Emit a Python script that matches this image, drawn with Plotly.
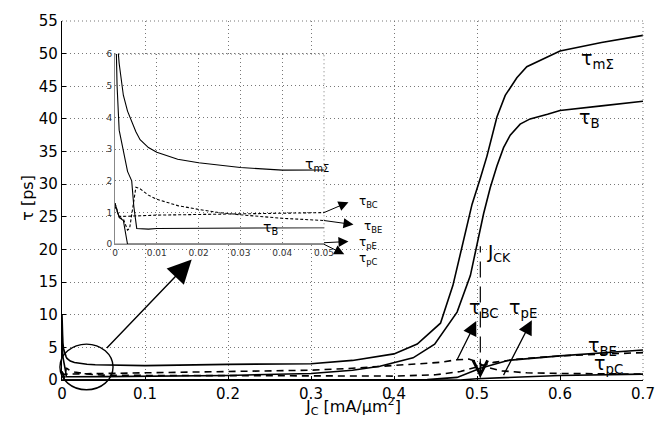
import plotly.graph_objects as go

# ---------------- data ----------------
x_mS = [0, 0.0005, 0.001, 0.002, 0.003, 0.004, 0.005, 0.006, 0.008, 0.01, 0.015, 0.02, 0.03, 0.04, 0.05,
        0.1, 0.2, 0.3, 0.35, 0.4, 0.428, 0.456, 0.471, 0.48, 0.494, 0.504, 0.512, 0.524, 0.534, 0.548, 0.56,
        0.6, 0.65, 0.7]
y_mS = [10, 6.5, 5.7, 4.7, 4.2, 3.85, 3.55, 3.3, 3.05, 2.9, 2.68, 2.57, 2.42, 2.34, 2.3,
        2.2, 2.4, 2.5, 3.0, 4.0, 5.5, 8.7, 14.5, 19.5, 26.9, 30.9, 34.3, 40.3, 43.6, 46.3, 48.0,
        50.4, 51.7, 52.8]

x_B = [0, 0.0005, 0.001, 0.002, 0.003, 0.0035, 0.004, 0.0045, 0.0052, 0.008, 0.01, 0.05, 0.1, 0.2, 0.3,
       0.35, 0.383, 0.423, 0.449, 0.476, 0.492, 0.508, 0.516, 0.524, 0.532, 0.54, 0.552, 0.564, 0.585,
       0.6, 0.65, 0.7]
y_B = [8, 5, 3.6, 2.9, 2.3, 2.15, 2.0, 1.2, 0.5, 0.48, 0.5, 0.52, 0.55, 0.7, 1.0,
       1.5, 2.1, 3.4, 5.5, 10.4, 16, 25.5, 29.5, 32.8, 35.6, 37.5, 39.2, 40.0, 40.7,
       41.3, 42.0, 42.7]

x_BC = [0, 0.001, 0.002, 0.005, 0.01, 0.02, 0.03, 0.04, 0.05, 0.1, 0.2, 0.3, 0.35, 0.4, 0.43, 0.455,
        0.476, 0.49, 0.5, 0.51, 0.53, 0.56, 0.6, 0.7]
y_BC = [1.2, 0.88, 0.88, 0.9, 0.92, 0.94, 0.96, 0.98, 1.0, 1.1, 1.25, 1.5, 1.8, 2.2, 2.4, 2.7,
        3.1, 3.2, 2.8, 2.0, 1.4, 1.1, 1.0, 0.9]

x_BE = [0, 0.001, 0.002, 0.0025, 0.003, 0.0035, 0.004, 0.0045, 0.005, 0.006, 0.008, 0.01, 0.015, 0.02,
        0.025, 0.03, 0.04, 0.05, 0.1, 0.2, 0.3, 0.4, 0.45, 0.48, 0.5, 0.52, 0.55, 0.6, 0.7]
y_BE = [1.3, 0.85, 0.8, 0.6, 0.45, 0.5, 0.9, 1.4, 1.8, 1.75, 1.55, 1.42, 1.22, 1.1,
        1.0, 0.93, 0.82, 0.75, 0.7, 0.65, 0.6, 0.6, 0.8, 1.3, 2.0, 2.7, 3.2, 3.7, 4.2]

x_pC = [0, 0.001, 0.002, 0.0025, 0.003, 0.44, 0.476, 0.504, 0.537, 0.6, 0.65, 0.7]
y_pC = [1.3, 0.85, 0.75, 0.3, 0, 0.05, 0.4, 1.8, 3.0, 3.7, 4.2, 4.6]

x_pE = [0, 0.48, 0.5, 0.55, 0.6, 0.7]
y_pE = [0, 0, 0.2, 0.5, 0.7, 0.9]

J_CK = 0.504

x_ticks = [0, 0.1, 0.2, 0.3, 0.4, 0.5, 0.6, 0.7]
x_ticklabels = ["0", "0.1", "0.2", "0.3", "0.4", "0.5", "0.6", "0.7"]
y_ticks = list(range(0, 56, 5))
inset_x_ticks = [0, 0.01, 0.02, 0.03, 0.04, 0.05]
inset_x_ticklabels = ["0", "0.01", "0.02", "0.03", "0.04", "0.05"]
inset_y_ticks = [0, 1, 2, 3, 4, 5, 6]

X_RANGE = [0, 0.7]
Y_RANGE = [0, 55]
IX_RANGE = [0, 0.05]
IY_RANGE = [0, 6]
IX_DOM = [0.0912, 0.451]
IY_DOM = [0.378, 0.908]

series = [
    (x_mS, y_mS, "solid"),
    (x_B, y_B, "solid"),
    (x_BC, y_BC, "dash"),
    (x_BE, y_BE, "dash"),
    (x_pC, y_pC, "solid"),
    (x_pE, y_pE, "solid"),
]

fig = go.Figure()
for xs, ys, d in series:
    fig.add_trace(go.Scatter(x=xs, y=ys, mode="lines", xaxis="x", yaxis="y",
                             line=dict(color="black", width=1.6,
                                       dash="7px,5px" if d == "dash" else "solid"),
                             hoverinfo="skip"))
for xs, ys, d in series:
    fig.add_trace(go.Scatter(x=xs, y=ys, mode="lines", xaxis="x2", yaxis="y2",
                             line=dict(color="black", width=1.1,
                                       dash="3px,2px" if d == "dash" else "solid"),
                             hoverinfo="skip"))

GRID = "#777"
GDASH = "1px,3px"
FONT = "DejaVu Sans"

fig.update_layout(
    width=667, height=424,
    margin=dict(l=62, r=24, t=12, b=44),
    paper_bgcolor="white", plot_bgcolor="white",
    showlegend=False,
    font=dict(family=FONT, color="black"),
    xaxis=dict(range=X_RANGE, tickvals=x_ticks, ticktext=x_ticklabels, showline=True,
               linecolor="black", linewidth=1.2, ticks="inside", ticklen=4, tickcolor="black",
               showgrid=True, gridcolor=GRID, griddash=GDASH, gridwidth=1, zeroline=False,
               tickfont=dict(size=15, family=FONT), domain=[0, 1]),
    yaxis=dict(range=Y_RANGE, tickvals=y_ticks, showline=True,
               linecolor="black", linewidth=1.2, ticks="inside", ticklen=4, tickcolor="black",
               showgrid=True, gridcolor=GRID, griddash=GDASH, gridwidth=1, zeroline=False,
               tickfont=dict(size=15, family=FONT), domain=[0, 1]),
    xaxis2=dict(range=IX_RANGE, tickvals=inset_x_ticks, ticktext=inset_x_ticklabels,
                domain=IX_DOM, anchor="y2", showline=True, linecolor="#888",
                linewidth=1, ticks="", showgrid=True, gridcolor=GRID, griddash=GDASH,
                zeroline=False, tickfont=dict(size=9, color="#333", family=FONT)),
    yaxis2=dict(range=IY_RANGE, tickvals=inset_y_ticks, domain=IY_DOM, anchor="x2",
                showline=True, linecolor="#888", linewidth=1, ticks="", showgrid=True,
                gridcolor=GRID, griddash=GDASH, zeroline=False,
                tickfont=dict(size=9, color="#333", family=FONT)),
)

# edge grid lines (top/right) for main and inset
shapes = [
    dict(type="line", xref="x domain", yref="y domain", x0=0, x1=1, y0=1, y1=1,
         line=dict(color=GRID, width=1, dash=GDASH)),
    dict(type="line", xref="x domain", yref="y domain", x0=1, x1=1, y0=0, y1=1,
         line=dict(color=GRID, width=1, dash=GDASH)),
    dict(type="line", xref="x2 domain", yref="y2 domain", x0=0, x1=1, y0=1, y1=1,
         line=dict(color=GRID, width=1, dash=GDASH)),
    dict(type="line", xref="x2 domain", yref="y2 domain", x0=1, x1=1, y0=0, y1=1,
         line=dict(color=GRID, width=1, dash=GDASH)),
]

def px_(x):
    return (x - X_RANGE[0]) / (X_RANGE[1] - X_RANGE[0])

def py_(y):
    return (y - Y_RANGE[0]) / (Y_RANGE[1] - Y_RANGE[0])

def ipx(x):
    return IX_DOM[0] + (x - IX_RANGE[0]) / (IX_RANGE[1] - IX_RANGE[0]) * (IX_DOM[1] - IX_DOM[0])

def ipy(y):
    return IY_DOM[0] + (y - IY_RANGE[0]) / (IY_RANGE[1] - IY_RANGE[0]) * (IY_DOM[1] - IY_DOM[0])

# zoom ellipse around the small-current region
cx, cy, rx, ry = 0.0295, 2.0, 0.032, 3.5
shapes.append(dict(type="circle", xref="paper", yref="paper",
                   x0=px_(cx - rx), x1=px_(cx + rx), y0=py_(cy - ry), y1=py_(cy + ry),
                   line=dict(color="black", width=1.4)))
# J_CK marker line
shapes.append(dict(type="line", xref="x", yref="y", x0=J_CK, x1=J_CK, y0=0.4, y1=20.5,
                   line=dict(color="black", width=1.2, dash="16px,9px")))
fig.update_layout(shapes=shapes)

ann = []

def label(text, x, y, size, xref="x", yref="y"):
    ann.append(dict(text=text, x=x, y=y, xref=xref, yref=yref, showarrow=False,
                    font=dict(size=size, family=FONT, color="black"),
                    xanchor="center", yanchor="middle"))

def arrow(x0, y0, x1, y1, size, width=1.3, head=2, xref="x", yref="y"):
    # arrow from (x0, y0) on a curve to head at (x1, y1)
    ann.append(dict(text="", x=x0, y=y0, ax=x1, ay=y1, xref=xref, yref=yref,
                    axref=xref, ayref=yref, showarrow=True, arrowside="start",
                    startarrowhead=head, startarrowsize=size, arrowwidth=width,
                    arrowcolor="black"))

# main labels
label("τ<sub>mΣ</sub>", 0.645, 49.1, 19)
label("τ<sub>B</sub>", 0.636, 40.1, 19)
label("J<sub>CK</sub>", 0.527, 19.4, 18)
label("τ<sub>BC</sub>", 0.508, 11.0, 19)
label("τ<sub>pE</sub>", 0.556, 11.0, 19)
label("τ<sub>BE</sub>", 0.651, 5.2, 19)
label("τ<sub>pC</sub>", 0.658, 2.4, 19)

arrow(0.476, 3.1, 0.5, 9.25, 2.2, 1.3)
arrow(0.532, 0.75, 0.567, 9.4, 2.2, 1.3)
arrow(0.054, 4.9, 0.158, 18.7, 3.4, 1.4)
# J_CK arrow head (open)
ann.append(dict(text="", x=J_CK, y=0.3, ax=J_CK, ay=3.5, xref="x", yref="y", axref="x",
                ayref="y", showarrow=True, arrowhead=5, arrowsize=2.6, arrowwidth=1.1,
                arrowcolor="black"))

# inset labels
label("τ<sub>mΣ</sub>", 0.0483, 2.49, 14, "x2", "y2")
label("τ<sub>B</sub>", 0.0373, 0.52, 14, "x2", "y2")
label("τ<sub>BC</sub>", ipx(0.0607), ipy(1.32), 12, "paper", "paper")
label("τ<sub>BE</sub>", ipx(0.0617), ipy(0.55), 12, "paper", "paper")
label("τ<sub>pE</sub>", ipx(0.0605), ipy(0.03), 12, "paper", "paper")
label("τ<sub>pC</sub>", ipx(0.0607), ipy(-0.45), 12, "paper", "paper")

arrow(0.05, 1.0, 0.0562, 1.35, 2.0, 1.0, xref="x2", yref="y2")
arrow(0.05, 0.75, 0.0574, 0.615, 2.0, 1.0, xref="x2", yref="y2")
arrow(0.05, 0.05, 0.0562, 0.09, 2.0, 1.0, xref="x2", yref="y2")
arrow(0.05, 0.0, 0.0552, -0.34, 2.0, 1.0, xref="x2", yref="y2")

# axis titles
ann.append(dict(text="J<sub>C</sub> [mA/μm<sup>2</sup>]", x=0.5, y=-0.073, xref="paper",
                yref="paper", showarrow=False, font=dict(size=16, family=FONT),
                xanchor="center", yanchor="middle"))
ann.append(dict(text="τ [ps]", x=-0.060, y=0.508, xref="paper", yref="paper",
                showarrow=False, textangle=-90, font=dict(size=16, family=FONT),
                xanchor="center", yanchor="middle"))

fig.update_layout(annotations=ann)
fig.write_html("out.html")
